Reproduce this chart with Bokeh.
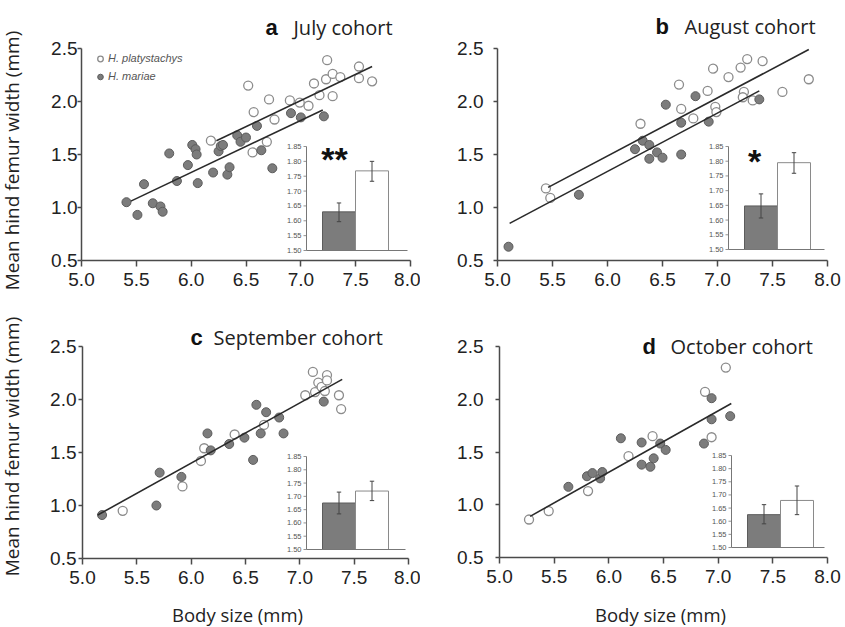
import math
from bokeh.plotting import figure
from bokeh.layouts import column, row
from bokeh.models import Range1d, Label, Legend, LegendItem, FixedTicker, PrintfTickFormatter
from bokeh.core.properties import value
from bokeh.embed import file_html
from bokeh.resources import INLINE

# ---------------- data ----------------
x_ticks = [5.0, 5.5, 6.0, 6.5, 7.0, 7.5, 8.0]
y_ticks = [0.5, 1.0, 1.5, 2.0, 2.5]
inset_ticks = [1.50, 1.55, 1.60, 1.65, 1.70, 1.75, 1.80, 1.85]
species = ["H. platystachys", "H. mariae"]
panel_letters = ["a", "b", "c", "d"]
panel_titles = ["July cohort", "August cohort", "September cohort", "October cohort"]
sig_marks = ["**", "*", "", ""]
x_label = "Body size (mm)"
y_label = "Mean hind femur width (mm)"

# July
a_plat_x = [6.18, 6.52, 6.57, 6.56, 6.71, 6.69, 6.76, 6.90, 6.99, 7.07, 7.12, 7.17, 7.23, 7.24,
            7.29, 7.29, 7.36, 7.53, 7.53, 7.65]
a_plat_y = [1.63, 2.15, 1.90, 1.52, 2.02, 1.62, 1.83, 2.01, 1.99, 1.96, 2.17, 2.06, 2.21, 2.39,
            2.26, 2.05, 2.23, 2.33, 2.22, 2.19]
a_mar_x = [5.41, 5.51, 5.57, 5.65, 5.72, 5.74, 5.80, 5.87, 5.97, 6.01, 6.04, 6.05, 6.06, 6.20,
           6.25, 6.27, 6.29, 6.33, 6.35, 6.42, 6.45, 6.50, 6.60, 6.64, 6.74, 6.91, 7.00, 7.21]
a_mar_y = [1.05, 0.93, 1.22, 1.04, 1.01, 0.96, 1.51, 1.25, 1.40, 1.59, 1.55, 1.50, 1.23, 1.33,
           1.53, 1.58, 1.59, 1.31, 1.38, 1.68, 1.62, 1.66, 1.77, 1.54, 1.37, 1.89, 1.85, 1.86]
a_plat_fit_x = [6.23, 7.65]
a_plat_fit_y = [1.63, 2.33]
a_mar_fit_x = [5.45, 7.20]
a_mar_fit_y = [1.06, 1.92]

# August
b_plat_x = [5.44, 5.48, 6.30, 6.65, 6.67, 6.78, 6.91, 6.96, 6.98, 6.99, 7.10, 7.21, 7.24, 7.23,
            7.27, 7.32, 7.41, 7.59, 7.83]
b_plat_y = [1.18, 1.09, 1.79, 2.16, 1.93, 1.84, 2.10, 2.31, 1.95, 1.90, 2.23, 2.32, 2.09, 2.04,
            2.40, 2.01, 2.38, 2.09, 2.21]
b_mar_x = [5.10, 5.74, 6.25, 6.32, 6.38, 6.38, 6.45, 6.50, 6.53, 6.67, 6.67, 6.80, 6.92, 7.38]
b_mar_y = [0.63, 1.12, 1.55, 1.63, 1.59, 1.46, 1.52, 1.47, 1.97, 1.80, 1.50, 2.05, 1.81, 2.02]
b_plat_fit_x = [5.46, 7.83]
b_plat_fit_y = [1.19, 2.49]
b_mar_fit_x = [5.11, 7.38]
b_mar_fit_y = [0.85, 2.10]

# September
c_plat_x = [5.37, 5.92, 6.09, 6.12, 6.40, 6.67, 7.05, 7.12, 7.14, 7.17, 7.20, 7.25, 7.25, 7.23,
            7.36, 7.38]
c_plat_y = [0.95, 1.18, 1.42, 1.54, 1.67, 1.76, 2.04, 2.26, 2.07, 2.16, 2.12, 2.23, 2.18, 2.08,
            2.04, 1.91]
c_mar_x = [5.18, 5.71, 5.68, 5.91, 6.15, 6.18, 6.35, 6.49, 6.57, 6.60, 6.64, 6.69, 6.81, 6.85, 7.22]
c_mar_y = [0.91, 1.31, 1.00, 1.27, 1.68, 1.52, 1.58, 1.64, 1.43, 1.95, 1.68, 1.88, 1.83, 1.68, 1.98]
c_fit_x = [5.14, 7.39]
c_fit_y = [0.91, 2.19]

# October
d_plat_x = [5.27, 5.45, 5.81, 6.18, 6.40, 6.88, 6.94, 7.07]
d_plat_y = [0.86, 0.94, 1.13, 1.46, 1.65, 2.07, 1.64, 2.30]
d_mar_x = [5.63, 5.80, 5.85, 5.92, 5.94, 6.11, 6.30, 6.30, 6.38, 6.41, 6.47, 6.52, 6.87, 6.94,
           6.94, 7.11]
d_mar_y = [1.17, 1.27, 1.30, 1.25, 1.31, 1.63, 1.59, 1.38, 1.36, 1.44, 1.58, 1.52, 1.58, 2.01,
           1.81, 1.84]
d_fit_x = [5.28, 7.12]
d_fit_y = [0.89, 1.96]

# inset bar charts: mean hind femur width (mm) +- error
inset_mar_mean = [1.630, 1.648, 1.675, 1.625]
inset_mar_lo = [1.597, 1.607, 1.634, 1.590]
inset_mar_hi = [1.660, 1.689, 1.716, 1.663]
inset_plat_mean = [1.768, 1.795, 1.720, 1.679]
inset_plat_lo = [1.733, 1.759, 1.684, 1.625]
inset_plat_hi = [1.800, 1.829, 1.757, 1.734]

# ---------------- styling / layout (pixel geometry, local to each figure) ----------------
FILL_GRAY = "#7c7c7c"
LINE_GRAY = "#5c5c5c"
OPEN_LINE = "#8c8c8c"
AXIS_COL = "#4a4a4a"
TEXT_COL = "#222222"
FIT_COL = "#2a2a2a"
TICK_FONT = "Liberation Sans"
LABEL_FONT = "Open Sans"

cfgs = [
    dict(W=420, H=310, x5=81, x8=410, y25=48, y05=260, ystand=0,
         let=(265, 27), txt=(293, 27), ylab=(11, 160), xlab=None,
         ins_ax=306, ins_base=250, ins_top=146, star=(334, 158)),
    dict(W=424, H=310, x5=77, x8=407, y25=48, y05=260, ystand=10,
         let=(235, 26), txt=(264, 26), ylab=None, xlab=None,
         ins_ax=308, ins_base=249, ins_top=146, star=(334, 160)),
    dict(W=420, H=316, x5=82, x8=408, y25=36, y05=248, ystand=2,
         let=(190, 27), txt=(213, 27), ylab=(11, 136), xlab=(237, 304),
         ins_ax=306, ins_base=239, ins_top=146, star=None),
    dict(W=424, H=316, x5=79, x8=407, y25=36, y05=247, ystand=12,
         let=(222, 36), txt=(250, 36), ylab=None, xlab=(240, 304),
         ins_ax=311, ins_base=237, ins_top=145, star=None),
]

panels_data = [
    (a_plat_x, a_plat_y, a_mar_x, a_mar_y, [(a_plat_fit_x, a_plat_fit_y), (a_mar_fit_x, a_mar_fit_y)]),
    (b_plat_x, b_plat_y, b_mar_x, b_mar_y, [(b_plat_fit_x, b_plat_fit_y), (b_mar_fit_x, b_mar_fit_y)]),
    (c_plat_x, c_plat_y, c_mar_x, c_mar_y, [(c_fit_x, c_fit_y)]),
    (d_plat_x, d_plat_y, d_mar_x, d_mar_y, [(d_fit_x, d_fit_y)]),
]


def build(i):
    cfg = cfgs[i]
    W, H = cfg["W"], cfg["H"]
    px, py, mx, my, fits = panels_data[i]

    # main ranges so that the data box sits at the wanted pixels; frame = whole figure
    kx = (x_ticks[-1] - x_ticks[0]) / (cfg["x8"] - cfg["x5"])
    ky = (y_ticks[-1] - y_ticks[0]) / (cfg["y05"] - cfg["y25"])
    xr = Range1d(x_ticks[0] - cfg["x5"] * kx, x_ticks[0] + (W - cfg["x5"]) * kx)
    yr = Range1d(y_ticks[0] - (H - cfg["y05"]) * ky, y_ticks[-1] + cfg["y25"] * ky)

    p = figure(width=W, height=H, x_range=xr, y_range=yr,
               output_backend="svg", toolbar_location=None,
               min_border_left=0, min_border_right=0, min_border_top=0, min_border_bottom=0)
    p.outline_line_color = None
    p.grid.visible = False
    p.background_fill_color = "white"
    p.border_fill_color = "white"

    for ax in (p.xaxis, p.yaxis):
        ax.axis_line_color = AXIS_COL
        ax.axis_line_width = 1.5
        ax.major_tick_line_color = AXIS_COL
        ax.major_tick_line_width = 1.5
        ax.major_tick_in = 0
        ax.minor_tick_line_color = None
        ax.major_label_text_font = TICK_FONT
        ax.major_label_text_font_size = "19px"
        ax.major_label_text_color = TEXT_COL
        ax.formatter = PrintfTickFormatter(format="%.1f")
    p.xaxis.ticker = FixedTicker(ticks=x_ticks)
    p.yaxis.ticker = FixedTicker(ticks=y_ticks)
    p.xaxis.fixed_location = y_ticks[0]
    p.yaxis.fixed_location = x_ticks[0]
    p.xaxis.bounds = (x_ticks[0], x_ticks[-1])
    p.yaxis.bounds = (y_ticks[0], y_ticks[-1])
    p.xaxis.major_tick_out = 6
    p.yaxis.major_tick_out = 4
    p.xaxis.major_label_standoff = 6
    p.yaxis.major_label_standoff = cfg["ystand"]

    # scatter + fits
    r_open = p.scatter(px, py, marker="circle", size=9, fill_color="white",
                       line_color=OPEN_LINE, line_width=1.3)
    r_fill = p.scatter(mx, my, marker="circle", size=9, fill_color=FILL_GRAY,
                       line_color=LINE_GRAY, line_width=1)
    for fx, fy in fits:
        p.line(fx, fy, line_color=FIT_COL, line_width=1.6)

    # ---- inset bar chart on extra ranges ----
    bar_px = 33.0
    gap_px = 16.0
    ux = 1.0 / bar_px
    gcx = cfg["ins_ax"] + gap_px + bar_px / 2
    ixs = -gcx * ux
    vy = (inset_ticks[-1] - inset_ticks[0]) / (cfg["ins_base"] - cfg["ins_top"])
    p.extra_x_ranges = {"ix": Range1d(ixs, ixs + W * ux)}
    p.extra_y_ranges = {"iy": Range1d(inset_ticks[0] - (H - cfg["ins_base"]) * vy,
                                      inset_ticks[0] + cfg["ins_base"] * vy)}
    ax_u = ixs + cfg["ins_ax"] * ux
    end_u = ixs + (cfg["x8"] - 3) * ux
    kw = dict(x_range_name="ix", y_range_name="iy")
    n = len(inset_ticks)
    p.vbar(x=[0, 1], width=1, bottom=inset_ticks[0],
           top=[inset_mar_mean[i], inset_plat_mean[i]],
           fill_color=[FILL_GRAY, "white"], line_color=[LINE_GRAY, "#8a8a8a"], line_width=1, **kw)
    p.segment(x0=[0, 1], y0=[inset_mar_lo[i], inset_plat_lo[i]],
              x1=[0, 1], y1=[inset_mar_hi[i], inset_plat_hi[i]],
              line_color="#444444", line_width=1, **kw)
    cap = 2.2 * ux
    for c, lo, hi in ((0, inset_mar_lo[i], inset_mar_hi[i]), (1, inset_plat_lo[i], inset_plat_hi[i])):
        p.segment(x0=[c - cap, c - cap], y0=[lo, hi], x1=[c + cap, c + cap], y1=[lo, hi],
                  line_color="#444444", line_width=1, **kw)
    p.segment(x0=[ax_u], y0=[inset_ticks[0]], x1=[ax_u], y1=[inset_ticks[-1]],
              line_color="#777777", line_width=1, **kw)
    p.segment(x0=[ax_u], y0=[inset_ticks[0]], x1=[end_u], y1=[inset_ticks[0]],
              line_color="#777777", line_width=1, **kw)
    p.segment(x0=[ax_u - 3 * ux] * n, y0=inset_ticks, x1=[ax_u] * n, y1=inset_ticks,
              line_color="#777777", line_width=0.8, **kw)
    p.text(x=[ax_u - 5 * ux] * n, y=inset_ticks, text=["%.2f" % t for t in inset_ticks],
           text_align="right", text_baseline="middle", text_font_size="7.5px",
           text_color="#555555", text_font=value(TICK_FONT), **kw)

    def lab(pos, text, **style):
        p.add_layout(Label(x=pos[0], y=H - pos[1], x_units="screen", y_units="screen",
                           text=text, **style))

    if cfg["star"] is not None and sig_marks[i]:
        lab(cfg["star"], sig_marks[i], text_font=TICK_FONT, text_font_size="34px",
            text_font_style="bold", text_color="#111111", text_align="center",
            text_baseline="alphabetic")

    # ---- titles ----
    lab(cfg["let"], panel_letters[i], text_font=TICK_FONT, text_font_size="22px",
        text_font_style="bold", text_color="#111111", text_baseline="alphabetic")
    lab(cfg["txt"], panel_titles[i], text_font=LABEL_FONT, text_font_size="20px",
        text_color=TEXT_COL, text_baseline="alphabetic")

    if cfg["ylab"] is not None:
        lab(cfg["ylab"], y_label, angle=math.pi / 2, text_font=LABEL_FONT,
            text_font_size="19px", text_color=TEXT_COL, text_align="center",
            text_baseline="middle")
    if cfg["xlab"] is not None:
        lab(cfg["xlab"], x_label, text_font=LABEL_FONT, text_font_size="18.5px",
            text_color=TEXT_COL, text_align="center", text_baseline="middle")

    if i == 0:
        leg = Legend(items=[LegendItem(label=species[0], renderers=[r_open]),
                            LegendItem(label=species[1], renderers=[r_fill])],
                     location=(93, H - 84.5), orientation="vertical",
                     glyph_width=14, glyph_height=17, label_height=17, spacing=1,
                     padding=0, margin=0, label_standoff=1,
                     label_text_font=TICK_FONT, label_text_font_size="11px",
                     label_text_font_style="italic", label_text_color="#555555",
                     background_fill_alpha=0, border_line_color=None)
        p.add_layout(leg, "center")
    return p


figs = [build(i) for i in range(4)]
layout = column(row(figs[0], figs[1]), row(figs[2], figs[3]))
open("out.html", "w").write(file_html(layout, INLINE))
